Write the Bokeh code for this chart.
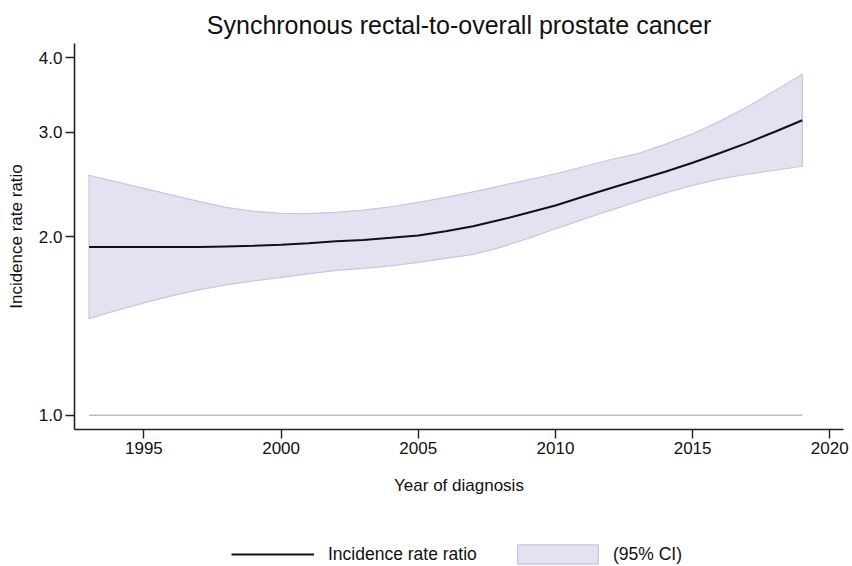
from bokeh.plotting import figure
from bokeh.models import Range1d, FixedTicker, Legend, LegendItem
from bokeh.layouts import column
from bokeh.embed import file_html
from bokeh.resources import INLINE

years = list(range(1993, 2020))
irr = [1.920, 1.920, 1.920, 1.920, 1.920, 1.925, 1.929, 1.937, 1.948, 1.963,
       1.974, 1.990, 2.009, 2.041, 2.081, 2.134, 2.193, 2.256, 2.334, 2.412,
       2.490, 2.572, 2.663, 2.766, 2.877, 3.004, 3.141]
ci_upper = [2.537, 2.473, 2.411, 2.351, 2.293, 2.240, 2.206, 2.189, 2.186, 2.197,
            2.216, 2.245, 2.284, 2.329, 2.379, 2.435, 2.492, 2.552, 2.622, 2.694,
            2.760, 2.860, 2.980, 3.130, 3.310, 3.520, 3.755]
ci_lower = [1.454, 1.502, 1.546, 1.589, 1.626, 1.658, 1.684, 1.707, 1.730, 1.754,
            1.768, 1.785, 1.809, 1.838, 1.866, 1.918, 1.986, 2.061, 2.138, 2.214,
            2.293, 2.370, 2.440, 2.502, 2.547, 2.587, 2.627]
ref_value = 1.0
x_ticks = [1995, 2000, 2005, 2010, 2015, 2020]
y_ticks = [1.0, 2.0, 3.0, 4.0]
y_tick_labels = ["1.0", "2.0", "3.0", "4.0"]

FONT = "Liberation Sans"
BAND_FILL = "#e2e2f1"
BAND_LINE = "#c6c6e6"
LINE_COL = "#111111"

p = figure(width=852, height=507, output_backend="svg", toolbar_location=None,
           y_axis_type="log",
           x_range=Range1d(1992.47, 2020.5), y_range=Range1d(0.946, 4.23),
           min_border_left=74, min_border_right=9, min_border_top=43,
           min_border_bottom=78)
p.outline_line_color = None
p.grid.visible = False
p.background_fill_color = "white"
p.border_fill_color = "white"

p.title.text = "Synchronous rectal-to-overall prostate cancer"
p.title.text_font = FONT
p.title.text_font_size = "25px"
p.title.text_font_style = "normal"
p.title.align = "center"
p.title.standoff = 10
p.title.text_color = "#111111"

# CI band
p.patch(years + years[::-1], ci_upper + ci_lower[::-1],
        fill_color=BAND_FILL, line_color=BAND_LINE, line_width=1.2)
# reference line
p.line([years[0], years[-1]], [ref_value, ref_value], line_color="#bdbdbd", line_width=1.6)
# IRR line
p.line(years, irr, line_color=LINE_COL, line_width=2)

for ax in (p.xaxis[0], p.yaxis[0]):
    ax.axis_line_color = "#222222"
    ax.axis_line_width = 1.6
    ax.major_tick_line_color = "#222222"
    ax.major_tick_line_width = 1.4
    ax.major_tick_out = 9
    ax.major_tick_in = 0
    ax.minor_tick_out = 0
    ax.minor_tick_in = 0
    ax.major_label_text_font = FONT
    ax.major_label_text_font_size = "17px"
    ax.major_label_text_color = "#111111"
    ax.axis_label_text_font = FONT
    ax.axis_label_text_font_size = "17px"
    ax.axis_label_text_font_style = "normal"
    ax.axis_label_text_color = "#111111"

p.xaxis.ticker = FixedTicker(ticks=x_ticks)
p.xaxis.axis_label = "Year of diagnosis"
p.xaxis.major_label_standoff = 3
p.xaxis.axis_label_standoff = 19

p.yaxis.ticker = FixedTicker(ticks=y_ticks)
p.yaxis.major_label_overrides = {t: s for t, s in zip(y_ticks, y_tick_labels)}
p.yaxis.axis_label = "Incidence rate ratio"
p.yaxis.major_label_standoff = 3
p.yaxis.axis_label_standoff = 10

# Legend strip below the chart (same series, drawn out of view; only the legend shows)
q = figure(width=836, height=59, output_backend="svg", toolbar_location=None,
           x_range=Range1d(0, 1), y_range=Range1d(0, 1),
           x_axis_location=None, y_axis_location=None,
           min_border_left=0, min_border_right=0, min_border_top=0, min_border_bottom=0)
q.outline_line_color = None
q.grid.visible = False
q.border_fill_color = "white"
q_band = q.patch(years + years[::-1], ci_upper + ci_lower[::-1],
                 fill_color=BAND_FILL, line_color=BAND_LINE, line_width=1.2)
q_line = q.line(years, irr, line_color=LINE_COL, line_width=2)

common = dict(orientation="horizontal", padding=0, margin=0,
              label_text_font=FONT, label_text_font_size="17.5px",
              label_text_color="#111111", glyph_height=24, label_height=24,
              border_line_color=None, background_fill_alpha=0)
leg_line = Legend(items=[LegendItem(label="Incidence rate ratio", renderers=[q_line])],
                  location=(157, 0), glyph_width=83, label_standoff=14, **common)
leg_band = Legend(items=[LegendItem(label="(95% CI)", renderers=[q_band])],
                  location=(433, 0), glyph_width=101, label_standoff=5, **common)
q.add_layout(leg_line, "center")
q.add_layout(leg_band, "center")

layout = column(p, q, spacing=0)
open("out.html", "w").write(file_html(layout, INLINE))
